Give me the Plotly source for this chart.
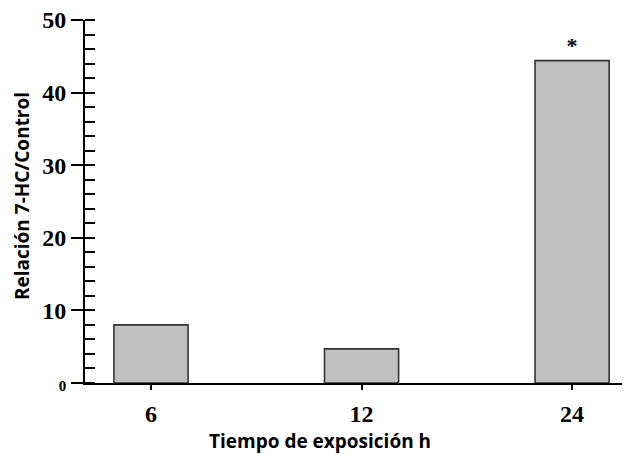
import plotly.graph_objects as go

categories = ["6", "12", "24"]
values = [8.0, 4.7, 44.4]
y_tickvals = [0, 10, 20, 30, 40, 50]
y_ticktext = ['<span style="font-size:15px">0</span>', "10", "20", "30", "40", "50"]
x_title = "Tiempo de exposición h"
y_title = "Relación 7-HC/Control"
significance = ["", "", "*"]

# The page body has an 8px margin, so the figure is shifted by 8px.
OFF = 8
PL, PR, PT, PB = 85, 630, 20, 383  # plot area in page pixels

fig = go.Figure()
fig.add_trace(go.Bar(
    x=categories, y=values, width=0.352,
    marker=dict(color="#c0c0c0", line=dict(color="#333333", width=1.6)),
    text=significance, textposition="outside", cliponaxis=False,
    outsidetextfont=dict(family="Liberation Serif", size=22, color="black", weight="bold"),
))

serif = dict(family="Liberation Serif", size=24, color="black", weight="bold")

fig.update_layout(
    width=630 - OFF, height=454 - OFF,
    margin=dict(l=PL - OFF, r=0, t=PT - OFF, b=454 - PB),
    plot_bgcolor="white", paper_bgcolor="white",
    showlegend=False,
    xaxis=dict(
        type="category", range=[-0.3135, 2.275],
        showline=True, linecolor="black", linewidth=2,
        ticks="outside", ticklen=5, tickwidth=2, tickcolor="black",
        tickfont=serif, showgrid=False, zeroline=False, ticklabelstandoff=3,
    ),
    yaxis=dict(
        range=[0, 50], tickvals=y_tickvals, ticktext=y_ticktext,
        showline=True, linecolor="black", linewidth=2,
        ticks="outside", ticklen=12, tickwidth=2, tickcolor="black",
        tickfont=serif, showgrid=False, zeroline=False, ticklabeloverflow="allow",
        minor=dict(dtick=2, ticks="inside", ticklen=10, tickwidth=2, tickcolor="black", showgrid=False),
    ),
)

W, H = PR - PL, PB - PT
fig.add_annotation(xref="paper", yref="paper", x=(320 - PL) / W, y=-(441 - PB) / H,
                   text=x_title, showarrow=False, xanchor="center", yanchor="middle",
                   font=dict(family="Open Sans", size=19, color="black", weight="bold"))
fig.add_annotation(xref="paper", yref="paper", x=(22 - PL) / W, y=(PB - 196) / H,
                   text=y_title, showarrow=False, textangle=-90, xanchor="center", yanchor="middle",
                   font=dict(family="Open Sans", size=19, color="black", weight="bold"))

fig.write_html("out.html")
